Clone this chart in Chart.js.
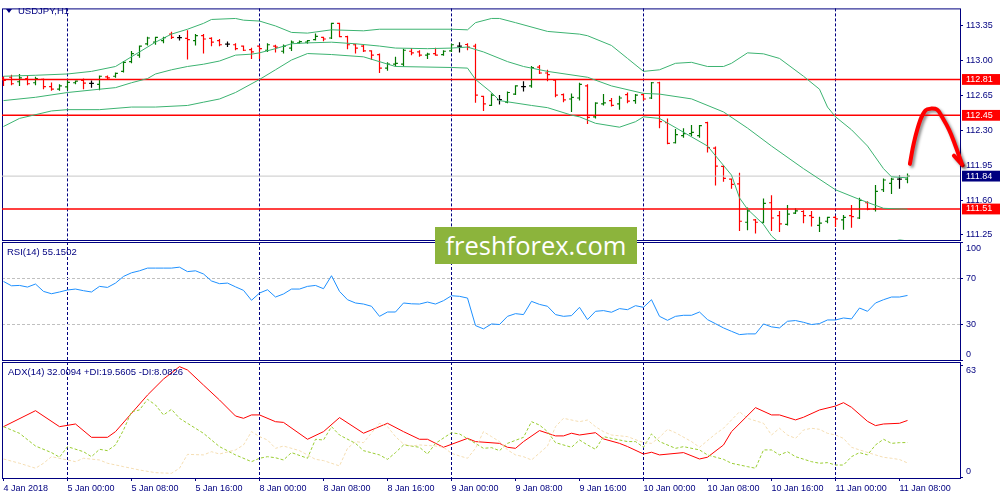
<!DOCTYPE html>
<html><head><meta charset="utf-8">
<script src="https://cdn.jsdelivr.net/npm/chart.js@4.4.1/dist/chart.umd.min.js"></script>
<style>
html,body{margin:0;padding:0;background:#fff;}
#wrap{position:relative;width:1000px;height:500px;overflow:hidden;background:#fff;}
canvas{position:absolute;left:0;top:0;}
.lbl{position:absolute;font:9.5px "Liberation Sans",Arial,sans-serif;color:#000080;white-space:nowrap;line-height:11px;}
#tri{position:absolute;left:6px;top:9px;width:0;height:0;border-left:3px solid transparent;border-right:3px solid transparent;border-top:4px solid #000080;}
#wm{position:absolute;left:435px;top:227px;width:202px;height:37px;background:#8cb43c;color:#fff;font:25.5px "Open Sans",sans-serif;text-align:center;line-height:36px;}
</style></head><body>
<div id="wrap">
<canvas id="cPrice" width="1000" height="500"></canvas>
<canvas id="cRsi" width="1000" height="500"></canvas>
<canvas id="cAdx" width="1000" height="500"></canvas>
<div id="tri"></div>
<div class="lbl" style="left:18px;top:5px">USDJPY,H1</div>
<div class="lbl" style="left:7px;top:246px">RSI(14) 55.1502</div>
<div class="lbl" style="left:8px;top:366px">ADX(14) 32.0094 +DI:19.5605 -DI:8.0826</div>
<div id="wm">freshforex.com</div>
</div>
<script>
// ---------- DATA ----------
const timeLabels = ['4 Jan 2018','5 Jan 00:00','5 Jan 08:00','5 Jan 16:00','8 Jan 00:00','8 Jan 08:00','8 Jan 16:00',
  '9 Jan 00:00','9 Jan 08:00','9 Jan 16:00','10 Jan 00:00','10 Jan 08:00','10 Jan 16:00','11 Jan 00:00','11 Jan 08:00'];

const open = [112.826,112.832,112.787,112.819,112.777,112.810,112.738,112.712,112.735,112.777,
 112.800,112.771,112.761,112.836,112.842,112.891,112.989,113.054,113.168,113.184,
 113.200,113.265,113.230,113.223,113.200,113.249,113.223,113.200,113.164,113.158,
 113.145,113.109,113.145,113.103,113.145,113.093,113.125,113.177,113.184,113.210,
 113.233,113.226,113.373,113.239,113.158,113.145,113.096,113.060,112.924,112.963,
 112.963,113.093,113.086,113.054,113.070,113.060,113.096,113.145,113.161,113.145,
 112.640,112.549,112.608,112.582,112.663,112.738,112.745,112.933,112.875,112.803,
 112.657,112.614,112.624,112.745,112.435,112.565,112.598,112.565,112.657,112.598,
 112.657,112.624,112.777,112.377,112.175,112.247,112.266,112.247,112.377,112.120,
 111.937,111.810,111.762,111.377,111.400,111.377,111.573,111.443,111.355,111.469,
 111.485,111.443,111.345,111.387,111.426,111.400,111.443,111.420,111.573,111.508,
 111.703,111.768,111.810,111.810];
const high = [112.842,112.858,112.865,112.849,112.836,112.819,112.780,112.761,112.800,112.800,
 112.819,112.800,112.849,112.849,112.881,112.995,113.096,113.151,113.239,113.239,
 113.239,113.288,113.256,113.304,113.265,113.265,113.233,113.216,113.190,113.174,
 113.151,113.129,113.151,113.174,113.158,113.161,113.200,113.200,113.207,113.272,
 113.239,113.379,113.379,113.249,113.168,113.158,113.103,113.070,112.982,113.037,
 113.119,113.125,113.103,113.077,113.129,113.103,113.168,113.184,113.174,113.168,
 112.647,112.670,112.653,112.689,112.751,112.793,112.946,112.956,112.907,112.810,
 112.670,112.670,112.777,112.761,112.582,112.663,112.624,112.647,112.679,112.663,
 112.670,112.784,112.787,112.419,112.312,112.321,112.354,112.354,112.386,112.136,
 111.947,111.817,111.875,111.524,111.410,111.615,111.648,111.491,111.550,111.517,
 111.498,111.491,111.433,111.433,111.443,111.449,111.550,111.622,111.589,111.752,
 111.817,111.823,111.849,111.866];
const low = [112.745,112.751,112.745,112.751,112.751,112.712,112.696,112.696,112.702,112.761,
 112.712,112.728,112.702,112.810,112.826,112.881,112.972,113.028,113.151,113.158,
 113.174,113.216,113.200,113.011,113.151,113.070,113.142,113.142,113.135,113.103,
 113.096,113.015,113.015,113.086,113.080,113.070,113.096,113.168,113.168,113.200,
 113.194,113.216,113.233,113.112,113.070,113.086,113.005,112.875,112.898,112.940,
 112.940,113.054,113.037,113.015,113.047,113.047,113.086,113.080,113.103,112.575,
 112.494,112.543,112.559,112.572,112.653,112.689,112.728,112.865,112.793,112.631,
 112.582,112.484,112.598,112.364,112.419,112.549,112.539,112.507,112.572,112.565,
 112.598,112.614,112.321,112.159,112.168,112.224,112.240,112.224,112.077,111.745,
 111.784,111.713,111.290,111.296,111.263,111.368,111.290,111.280,111.345,111.459,
 111.368,111.335,111.280,111.368,111.329,111.303,111.322,111.410,111.498,111.485,
 111.680,111.661,111.713,111.768];
const close = [112.800,112.767,112.826,112.767,112.819,112.738,112.712,112.745,112.780,112.793,
 112.774,112.771,112.842,112.826,112.871,112.982,113.070,113.145,113.226,113.233,
 113.230,113.233,113.230,113.210,113.249,113.216,113.184,113.158,113.164,113.119,
 113.103,113.086,113.119,113.158,113.135,113.145,113.184,113.190,113.200,113.243,
 113.216,113.373,113.239,113.158,113.125,113.096,113.054,112.924,112.963,112.972,
 113.103,113.077,113.054,113.064,113.054,113.093,113.158,113.145,113.135,112.653,
 112.565,112.653,112.608,112.679,112.745,112.738,112.930,112.875,112.858,112.653,
 112.605,112.631,112.761,112.429,112.572,112.575,112.549,112.624,112.592,112.653,
 112.614,112.777,112.386,112.168,112.256,112.266,112.279,112.347,112.126,111.941,
 111.817,111.758,111.387,111.491,111.377,111.566,111.420,111.361,111.459,111.491,
 111.443,111.426,111.368,111.426,111.410,111.426,111.433,111.596,111.508,111.687,
 111.801,111.810,111.810,111.840];

// Bollinger bands [bar, price]
const bbUpper = [[0,112.842],[4,112.852],[8,112.865],[11,112.891],[14,112.940],[15,112.989],[17,113.086],[19,113.184],
 [21,113.265],[23,113.314],[25,113.373],[26,113.412],[29,113.422],[30,113.405],[32,113.396],[34,113.347],[36,113.282],
 [38,113.275],[41,113.308],[45,113.298],[47,113.314],[56,113.314],[58,113.308],[59,113.380],[61,113.422],[62,113.422],
 [64,113.380],[68,113.292],[72,113.265],[73,113.249],[76,113.151],[78,113.021],[80,112.891],[82,112.907],[84,112.972],
 [86,112.982],[88,112.940],[90,112.940],[91,112.972],[93,113.077],[95,113.067],[97,113.021],[100,112.842],[102,112.712],
 [103,112.533],[104,112.435],[106,112.305],[108,112.142],[110,111.915],[111,111.833],[113,111.823]];
const bbMiddle = [[0,112.598],[4,112.631],[8,112.679],[12,112.712],[14,112.728],[16,112.777],[18,112.819],[19,112.865],
 [21,112.907],[23,112.940],[25,112.963],[27,112.995],[29,113.054],[31,113.064],[32,113.077],[34,113.119],[36,113.168],
 [38,113.177],[41,113.184],[44,113.168],[47,113.145],[49,113.125],[53,113.119],[56,113.125],[58,113.135],[60,113.086],
 [63,112.989],[65,112.940],[68,112.891],[73,112.832],[76,112.745],[80,112.670],[82,112.663],[86,112.615],[90,112.484],
 [93,112.322],[96,112.142],[100,111.915],[104,111.703],[107,111.606],[110,111.517],[113,111.508]];
const bbLower = [[0,112.338],[2,112.419],[6,112.494],[8,112.507],[12,112.507],[16,112.533],[19,112.533],[23,112.549],
 [25,112.582],[27,112.614],[29,112.679],[32,112.810],[34,112.907],[36,113.005],[38,113.070],[41,113.060],[45,113.037],
 [49,112.940],[56,112.930],[58,112.924],[59,112.810],[61,112.679],[62,112.598],[66,112.549],[68,112.527],[71,112.452],
 [72,112.435],[74,112.370],[77,112.331],[79,112.386],[80,112.435],[82,112.419],[88,112.142],[91,111.850],[92,111.622],
 [93,111.508],[95,111.355],[96,111.240],[98,111.100],[100,110.990],[102,110.950],[104,110.970],[106,110.960],
 [108,111.050],[110,111.160],[112,111.200],[113,111.190]];

const levels = [112.81, 112.45, 111.51];
const bidPrice = 111.84;
const priceTicks = [113.35, 113.00, 112.65, 112.30, 111.95, 111.60, 111.25];

// hand-drawn arrow annotation [bar, price]
const arrowPath = [[113.3,111.963],[113.8,112.175],[114.6,112.403],[115.25,112.50],[115.9,112.517],[116.7,112.507],
 [117.3,112.436],[118.2,112.305],[119.0,112.143],[119.8,111.963]];
const arrowHead = [[118.8,112.045],[119.9,111.948],[120.7,112.104]];

const rsi = [67.1,63.4,63.7,62.3,64.9,58.6,56.6,58.1,59.8,60.6,
 59.2,58.1,62.9,62.0,65.7,71.4,74.5,76.2,78.5,78.5,
 78.5,78.5,79.3,75.5,76.2,73.5,67.5,65.2,65.7,62.5,
 59.5,51.0,57.2,60.0,53.8,56.4,60.6,60.6,62.9,63.7,
 60.9,72.0,58.6,51.5,48.7,47.8,45.9,37.3,41.0,41.0,
 48.7,48.0,47.8,49.5,47.8,50.7,54.9,54.4,52.9,29.4,
 26.6,30.8,30.3,37.3,39.6,38.8,50.1,47.5,45.9,38.8,
 37.3,37.9,45.0,34.5,41.6,42.2,40.8,43.9,43.0,46.4,
 45.0,51.5,37.3,33.9,37.3,38.2,38.2,41.0,34.5,31.0,
 27.4,24.5,21.7,22.3,22.3,30.8,28.3,27.4,33.1,33.7,
 32.2,30.3,31.1,34.2,34.2,35.9,35.1,44.4,41.6,48.7,
 51.5,53.8,53.8,55.15];
const rsiLevels = [70, 30];
const rsiTicks = [100, 70, 30, 0];

const adx = [[0,28.5],[4,37.5],[7,28.5],[9,30.0],[11,22.5],[13,22.5],[14,25.7],[16,36.0],[18,46.3],[20,55.3],[22,62.3],
 [23,60.4],[25,51.9],[27,43.5],[29,34.5],[30,33.2],[31,35.1],[32,35.1],[34,31.3],[35,30.9],[38,21.4],[40,25.7],[42,33.6],
 [45,24.8],[48,30.4],[50,25.7],[52,21.4],[53,21.4],[55,16.9],[58,21.9],[59,20.1],[62,19.1],[63,16.9],[64,16.3],[65,20.1],
 [67,26.3],[69,23.3],[70,23.3],[71,24.8],[72,23.8],[74,25.1],[75,21.6],[77,19.1],[78,17.3],[80,13.1],[81,14.1],[82,12.6],
 [85,13.9],[87,10.3],[88,11.3],[90,18.2],[91,25.7],[94,39.2],[96,35.1],[97,35.1],[99,32.3],[100,33.8],[102,37.9],
 [104,40.1],[105,42.0],[106,39.4],[108,31.5],[109,29.1],[110,30.0],[112,30.4],[113,32.0]];
const plusDI = [[0,28.5],[2,24.75],[4,17.6],[6,13.9],[7,11.3],[8,17.25],[10,14.4],[11,11.6],[12,15.75],[13,15.0],[14,18.2],
 [15,26.6],[16,36.9],[17,37.9],[18,43.9],[19,40.7],[20,35.1],[21,38.25],[22,33.2],[25,24.75],[27,17.25],[29,12.6],[31,8.8],
 [32,10.7],[33,11.6],[34,11.0],[35,9.75],[36,13.9],[38,10.7],[39,21.4],[40,21.0],[41,28.5],[42,23.8],[44,19.1],[45,15.0],
 [47,12.6],[48,10.1],[49,13.9],[50,18.2],[52,16.9],[53,13.1],[54,19.1],[56,25.1],[57,24.4],[59,19.1],[60,16.3],[61,16.7],
 [62,15.0],[63,19.1],[65,22.5],[66,31.3],[67,29.4],[68,25.7],[69,19.5],[71,16.9],[72,21.0],[73,18.2],[74,15.75],[75,22.9],
 [76,21.9],[78,20.1],[79,20.1],[80,16.9],[81,24.4],[82,20.1],[84,16.3],[85,17.25],[87,15.4],[88,12.6],[90,10.1],[91,7.9],
 [93,6.0],[94,5.1],[95,15.4],[96,15.4],[97,12.6],[98,14.4],[99,11.6],[101,8.8],[102,7.9],[103,8.25],[104,6.9],[105,6.9],
 [106,11.6],[107,13.9],[108,12.6],[109,18.2],[110,21.4],[111,19.1],[112,19.5],[113,19.56]];
const minusDI = [[0,10.3],[2,7.9],[4,5.1],[5,7.9],[6,11.6],[8,9.75],[9,8.8],[10,10.7],[12,9.75],[13,7.9],[15,6.0],[17,4.1],
 [19,2.6],[21,2.25],[22,5.1],[23,12.9],[25,12.6],[26,14.4],[27,13.1],[29,15.4],[30,18.2],[31,25.7],[32,22.9],[33,21.0],
 [34,16.3],[35,17.6],[37,15.0],[39,10.1],[40,9.4],[42,6.4],[43,16.3],[44,20.1],[45,19.5],[47,30.4],[48,28.5],[49,22.9],
 [50,18.75],[51,17.6],[52,18.2],[54,17.6],[55,16.9],[56,13.5],[57,12.0],[58,10.7],[59,16.3],[60,25.7],[61,22.9],[62,20.1],
 [63,15.4],[64,12.6],[65,11.6],[66,9.75],[68,17.6],[69,28.5],[70,33.2],[72,31.3],[73,32.25],[74,28.5],[75,25.7],[76,23.8],
 [78,22.9],[80,19.5],[81,19.1],[82,22.5],[83,27.0],[84,25.1],[86,20.1],[87,16.9],[89,24.4],[90,27.6],[91,32.25],[92,36.9],
 [93,33.2],[95,30.4],[96,23.8],[97,27.6],[98,23.8],[99,21.9],[100,26.6],[101,27.6],[102,27.0],[103,24.75],[104,23.8],
 [105,21.9],[106,16.9],[107,15.4],[109,12.6],[110,11.25],[111,10.7],[112,10.0],[113,8.08]];
const adxTicks = [63, 0];

// ---------- STYLE / LAYOUT ----------
const NAVY = '#000080';
const FONT = '"Liberation Sans", Arial, sans-serif';
const X_MIN = -0.1875, X_MAX = 119.5625;
const TICK = 0.3;
const BARS_PER_LABEL = 8;
const dayStarts = timeLabels.map((t, k) => t.includes('00:00') ? k * BARS_PER_LABEL : null).filter(v => v !== null);
const CLEAR = 'rgba(0,0,0,0)';

const pairs = arr => arr.map(([x, y]) => ({x, y}));

const framePlugin = {
  id: 'frame',
  beforeDatasetsDraw(chart) {
    const {ctx, chartArea: a} = chart;
    ctx.save();
    ctx.strokeStyle = NAVY; ctx.lineWidth = 1;
    ctx.strokeRect(a.left + 0.5, a.top + 0.5, a.right - a.left, a.bottom - a.top);
    ctx.restore();
  }
};
const shadowPlugin = {
  id: 'shadow',
  beforeDatasetDraw(chart, args) {
    const ds = chart.data.datasets[args.index];
    if (ds.shadow) {
      const c = chart.ctx; c.save();
      c.shadowColor = 'rgba(0,0,0,0.45)'; c.shadowBlur = 3; c.shadowOffsetX = 2; c.shadowOffsetY = 2;
    }
  },
  afterDatasetDraw(chart, args) {
    const ds = chart.data.datasets[args.index];
    if (ds.shadow) chart.ctx.restore();
  }
};

function xScale(showLabels) {
  return {
    type: 'linear', min: X_MIN, max: X_MAX,
    afterBuildTicks(s) { s.ticks = timeLabels.map((_, k) => ({value: k * BARS_PER_LABEL})); },
    afterFit(s) { s.height = showLabels ? 22 : 0; },
    ticks: {display: showLabels, autoSkip: false, maxRotation: 0, minRotation: 0, align: 'start', padding: 2,
      color: NAVY, font: {family: FONT, size: 9},
      callback: (v, k) => timeLabels[k]},
    grid: {display: true, drawOnChartArea: true, drawTicks: showLabels, tickLength: 3, tickColor: NAVY, lineWidth: 1,
      color: c => (c.tick && dayStarts.includes(c.tick.value)) ? NAVY : CLEAR},
    border: {display: false, dash: [3, 2]}
  };
}

const baseOpts = (padding) => ({
  responsive: false, animation: false, events: [],
  layout: {padding},
  plugins: {legend: {display: false}, tooltip: {enabled: false}},
  elements: {point: {radius: 0}, line: {tension: 0, borderWidth: 1}}
});

// ---------- PRICE ----------
const upSeg = [], dnSeg = [], djSeg = [];
for (let i = 0; i < open.length; i++) {
  const t = close[i] > open[i] ? upSeg : (close[i] < open[i] ? dnSeg : djSeg);
  t.push({x: i, y: low[i]}, {x: i, y: high[i]}, {x: i, y: null},
         {x: i - TICK, y: open[i]}, {x: i, y: open[i]}, {x: i, y: null},
         {x: i, y: close[i]}, {x: i + TICK, y: close[i]}, {x: i, y: null});
}
const boxVals = [...levels, bidPrice];
const isBox = v => boxVals.some(b => Math.abs(b - v) < 1e-6);

const priceOpts = baseOpts({left: 2, top: 2, right: 0, bottom: 260});
priceOpts.scales = {
  x: xScale(false),
  y: {
    position: 'right', min: 111.199, max: 113.523,
    afterFit(s) { s.width = 40; },
    afterBuildTicks(s) { s.ticks = [...priceTicks, ...boxVals].map(v => ({value: v})); },
    ticks: {autoSkip: false, padding: 3, font: {family: FONT, size: 9},
      callback: v => Number(v).toFixed(2),
      color: c => isBox(c.tick.value) ? '#ffffff' : NAVY,
      showLabelBackdrop: c => isBox(c.tick.value),
      backdropColor: c => Math.abs(c.tick.value - bidPrice) < 1e-6 ? NAVY : '#ff0000',
      backdropPadding: {left: 4, right: 8, top: 0, bottom: 0}},
    grid: {drawOnChartArea: false, drawTicks: true, tickLength: 3,
      tickColor: c => isBox(c.tick.value) ? CLEAR : NAVY},
    border: {display: false}
  }
};
const lvlDatasets = levels.map(v => ({data: [{x: X_MIN, y: v}, {x: X_MAX, y: v}], borderColor: '#ff0000', borderWidth: 1.5}));
new Chart(document.getElementById('cPrice'), {
  type: 'line',
  data: {datasets: [
    {data: pairs(bbUpper), borderColor: '#3cb371'},
    {data: pairs(bbMiddle), borderColor: '#3cb371'},
    {data: pairs(bbLower), borderColor: '#3cb371'},
    {data: [{x: X_MIN, y: bidPrice}, {x: X_MAX, y: bidPrice}], borderColor: '#c8c8c8'},
    ...lvlDatasets,
    {data: upSeg, borderColor: '#007800', borderWidth: 1.2, spanGaps: false},
    {data: dnSeg, borderColor: '#ff0000', borderWidth: 1.2, spanGaps: false},
    {data: djSeg, borderColor: '#000000', borderWidth: 1.2, spanGaps: false},
    {data: pairs(arrowPath), borderColor: '#ff0000', borderWidth: 4, tension: 0.4, borderCapStyle: 'round', borderJoinStyle: 'round', clip: false, shadow: true},
    {data: pairs(arrowHead), borderColor: '#ff0000', borderWidth: 4, borderCapStyle: 'round', borderJoinStyle: 'round', clip: false, shadow: true}
  ]},
  options: priceOpts,
  plugins: [framePlugin, shadowPlugin]
});

// ---------- RSI ----------
const rsiOpts = baseOpts({left: 2, top: 242, right: 0, bottom: 140});
rsiOpts.scales = {
  x: xScale(false),
  y: {
    position: 'right', min: 0, max: 100.8,
    afterFit(s) { s.width = 40; },
    afterBuildTicks(s) { s.ticks = rsiTicks.map(v => ({value: v})); },
    ticks: {autoSkip: false, padding: 3, color: NAVY, font: {family: FONT, size: 9},
      callback: v => v === rsiTicks[0] ? ['', String(v)] : (v === rsiTicks[rsiTicks.length - 1] ? [String(v), ''] : String(v))},
    grid: {drawOnChartArea: true, drawTicks: true, tickLength: 3, tickColor: NAVY,
      color: c => rsiLevels.includes(c.tick.value) ? '#c0c0c0' : CLEAR},
    border: {display: false, dash: [3, 2]}
  }
};
new Chart(document.getElementById('cRsi'), {
  type: 'line',
  data: {datasets: [{data: rsi.map((v, i) => ({x: i, y: v})), borderColor: '#1e90ff'}]},
  options: rsiOpts,
  plugins: [framePlugin]
});

// ---------- ADX ----------
const adxOpts = baseOpts({left: 2, top: 362, right: 0, bottom: 0});
adxOpts.scales = {
  x: xScale(true),
  y: {
    position: 'right', min: -0.4, max: 64.9,
    afterFit(s) { s.width = 40; },
    afterBuildTicks(s) { s.ticks = adxTicks.map(v => ({value: v})); },
    ticks: {autoSkip: false, padding: 3, color: NAVY, font: {family: FONT, size: 9},
      callback: v => v === adxTicks[0] ? ['', String(v)] : [String(v), '']},
    grid: {drawOnChartArea: false, drawTicks: true, tickLength: 3, tickColor: NAVY},
    border: {display: false}
  }
};
new Chart(document.getElementById('cAdx'), {
  type: 'line',
  data: {datasets: [
    {data: pairs(minusDI), borderColor: '#f5deb3', borderDash: [3, 2]},
    {data: pairs(plusDI), borderColor: '#9acd32', borderDash: [3, 2]},
    {data: pairs(adx), borderColor: '#ff0000'}
  ]},
  options: adxOpts,
  plugins: [framePlugin]
});
</script>
</body></html>
